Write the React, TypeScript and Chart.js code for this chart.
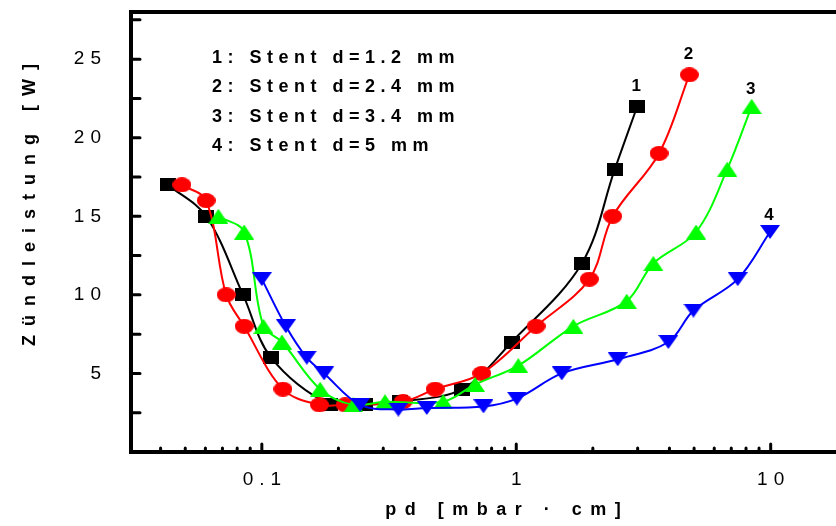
import React, { useEffect, useRef } from 'react';
import { Chart, registerables } from 'chart.js';

Chart.register(...registerables);

// ---- data ----
const stent1X = [0.0428, 0.0604, 0.0844, 0.1088, 0.1855, 0.2547, 0.3495, 0.611, 0.96, 1.81, 2.44, 2.99];
const stent1Y = [17, 15, 10, 6, 3, 3, 3.2, 4, 7, 12, 18, 22];

const stent2X = [0.0485, 0.0604, 0.0724, 0.0852, 0.121, 0.1684, 0.2125, 0.359, 0.48, 0.732, 1.196, 1.938, 2.394, 3.64, 4.79];
const stent2Y = [17, 16, 10, 8, 4, 3, 3, 3.2, 4, 5, 8, 11, 15, 19, 24];

const stent3X = [0.0675, 0.0852, 0.1015, 0.12, 0.1695, 0.229, 0.305, 0.516, 0.689, 1.019, 1.676, 2.718, 3.458, 5.09, 6.75, 8.42];
const stent3Y = [15, 14, 8, 7, 4, 3, 3.2, 3.2, 4.3, 5.5, 8, 9.6, 12, 14, 18, 22];

const stent4X = [0.1, 0.1243, 0.1502, 0.1757, 0.2433, 0.344, 0.445, 0.743, 1.005, 1.51, 2.505, 3.96, 4.97, 7.42, 9.94];
const stent4Y = [11, 8, 6, 5, 3, 2.7, 2.8, 2.9, 3.4, 5, 5.9, 7, 9, 11, 14];

const seriesNames = ['1: Stent d=1.2 mm', '2: Stent d=2.4 mm', '3: Stent d=3.4 mm', '4: Stent d=5 mm'];
const curveLabels = ['1', '2', '3', '4'];
const seriesColors = ['#000000', '#ff0000', '#00ff00', '#0000ff'];

const xMajorTicks = [0.1, 1, 10];
const xTickLabels = ['0.1', '1', '10'];
const xMinorTicks = [0.04, 0.05, 0.06, 0.07, 0.08, 0.09, 0.2, 0.3, 0.4, 0.5, 0.6, 0.7, 0.8, 0.9, 2, 3, 4, 5, 6, 7, 8, 9];
const yMajorTicks = [5, 10, 15, 20, 25];
const yTickLabels = ['5', '10', '15', '20', '25'];
const yMinorTicks = [2.5, 7.5, 12.5, 17.5, 22.5, 27.5];

const xTitle = 'pd [mbar · cm]';
const yTitle = 'Zündleistung [W]';

function makeMarker(kind: string, color: string): HTMLCanvasElement {
  const c = document.createElement('canvas');
  let w = 16, h = 13;
  if (kind === 'circle') { w = 19; h = 15; }
  if (kind === 'up') { w = 20; h = 15; }
  if (kind === 'down') { w = 20; h = 14; }
  c.width = w; c.height = h;
  const ctx = c.getContext('2d')!;
  ctx.fillStyle = color;
  ctx.beginPath();
  if (kind === 'square') {
    ctx.rect(0, 0, w, h);
  } else if (kind === 'circle') {
    ctx.ellipse(w / 2, h / 2, w / 2, h / 2, 0, 0, Math.PI * 2);
  } else if (kind === 'up') {
    ctx.moveTo(w / 2, 0); ctx.lineTo(w, h); ctx.lineTo(0, h); ctx.closePath();
  } else {
    ctx.moveTo(0, 0); ctx.lineTo(w, 0); ctx.lineTo(w / 2, h); ctx.closePath();
  }
  ctx.fill();
  return c;
}

function drawSpaced(ctx: CanvasRenderingContext2D, text: string, x: number, y: number, spacing: number, align: 'left' | 'center' | 'right') {
  (ctx as any).letterSpacing = spacing + 'px';
  const w = ctx.measureText(text).width - spacing;
  let sx = x;
  if (align === 'center') sx = x - w / 2;
  if (align === 'right') sx = x - w;
  ctx.textAlign = 'left';
  ctx.fillText(text, sx, y);
  (ctx as any).letterSpacing = '0px';
}

const framePlugin = {
  id: 'frame',
  afterDatasetsDraw(chart: any) {
    const { ctx, chartArea, scales } = chart;
    const xs = scales.x, ys = scales.y;
    const { left, right, top, bottom } = chartArea;
    ctx.save();
    ctx.strokeStyle = '#000';
    ctx.fillStyle = '#000';
    // axes frame
    ctx.lineWidth = 4;
    ctx.lineCap = 'square';
    ctx.beginPath();
    ctx.moveTo(right + 2, top); ctx.lineTo(left, top); ctx.lineTo(left, bottom); ctx.lineTo(right + 2, bottom);
    ctx.stroke();
    // ticks
    ctx.lineWidth = 3;
    ctx.lineCap = 'round';
    ctx.beginPath();
    yMajorTicks.concat(yMinorTicks).forEach((v) => {
      const py = ys.getPixelForValue(v);
      ctx.moveTo(left, py); ctx.lineTo(left + 9, py);
    });
    xMajorTicks.forEach((v) => {
      const px = xs.getPixelForValue(v);
      ctx.moveTo(px, bottom); ctx.lineTo(px, bottom - 8);
    });
    xMinorTicks.forEach((v) => {
      const px = xs.getPixelForValue(v);
      if (px > left + 3 && px < right) { ctx.moveTo(px, bottom); ctx.lineTo(px, bottom - 4); }
    });
    ctx.stroke();
    // tick labels
    ctx.font = '19px "Liberation Sans", Arial, sans-serif';
    ctx.textBaseline = 'middle';
    yMajorTicks.forEach((v, i) => {
      drawSpaced(ctx, yTickLabels[i], 101, ys.getPixelForValue(v), 6, 'right');
    });
    xMajorTicks.forEach((v, i) => {
      drawSpaced(ctx, xTickLabels[i], xs.getPixelForValue(v), 480, 6, 'center');
    });
    // titles
    ctx.font = 'bold 18px "Liberation Sans", Arial, sans-serif';
    drawSpaced(ctx, xTitle, 503, 510, 8.5, 'center');
    ctx.save();
    ctx.translate(30, 205);
    ctx.rotate(-Math.PI / 2);
    drawSpaced(ctx, yTitle, 0, 0, 9, 'center');
    ctx.restore();
    // legend block
    ctx.font = 'bold 18px "Liberation Sans", Arial, sans-serif';
    seriesNames.forEach((name, i) => {
      drawSpaced(ctx, name, 212, 58 + 29.5 * i, 5.5, 'left');
    });
    // curve labels next to last point of each series
    ctx.font = 'bold 17px "Liberation Sans", Arial, sans-serif';
    const offsets = [20, 21, 17, 17];
    chart.data.datasets.forEach((ds: any, i: number) => {
      const last = ds.data[ds.data.length - 1];
      const px = xs.getPixelForValue(last.x);
      const py = ys.getPixelForValue(last.y);
      drawSpaced(ctx, curveLabels[i], px - 1, py - offsets[i], 0, 'center');
    });
    ctx.restore();
  },
};

export default function App() {
  const ref = useRef<HTMLCanvasElement | null>(null);
  useEffect(() => {
    if (!ref.current) return;
    const xsAll = [stent1X, stent2X, stent3X, stent4X];
    const ysAll = [stent1Y, stent2Y, stent3Y, stent4Y];
    const kinds = ['square', 'circle', 'up', 'down'];
    const datasets = xsAll.map((xarr, i) => ({
      label: seriesNames[i],
      data: xarr.map((x, j) => ({ x, y: ysAll[i][j] })),
      borderColor: seriesColors[i],
      backgroundColor: seriesColors[i],
      borderWidth: 2,
      pointStyle: makeMarker(kinds[i], seriesColors[i]),
      pointRadius: 8,
      tension: 0.35,
      order: 4 - i,
      clip: false as any,
    }));
    const chart = new Chart(ref.current, {
      type: 'line',
      data: { datasets },
      options: {
        animation: false,
        responsive: false,
        maintainAspectRatio: false,
        layout: { autoPadding: false, padding: { top: 12, left: 0, right: 0, bottom: 0 } },
        plugins: { legend: { display: false }, tooltip: { enabled: false } },
        scales: {
          x: {
            type: 'logarithmic',
            min: 0.0306,
            max: 18.06,
            grid: { display: false },
            border: { display: false },
            ticks: { display: false },
            afterFit: (s: any) => { s.height = 74; },
          },
          y: {
            type: 'linear',
            min: 0,
            max: 28,
            grid: { display: false },
            border: { display: false },
            ticks: { display: false },
            afterFit: (s: any) => { s.width = 131; },
          },
        },
      },
      plugins: [framePlugin],
    });
    return () => chart.destroy();
  }, []);
  return (
    <div style={{ position: 'fixed', left: 0, top: 0, width: 836, height: 526, background: '#fff' }}>
      <canvas ref={ref} width={836} height={526} style={{ width: 836, height: 526, display: 'block' }} />
    </div>
  );
}
